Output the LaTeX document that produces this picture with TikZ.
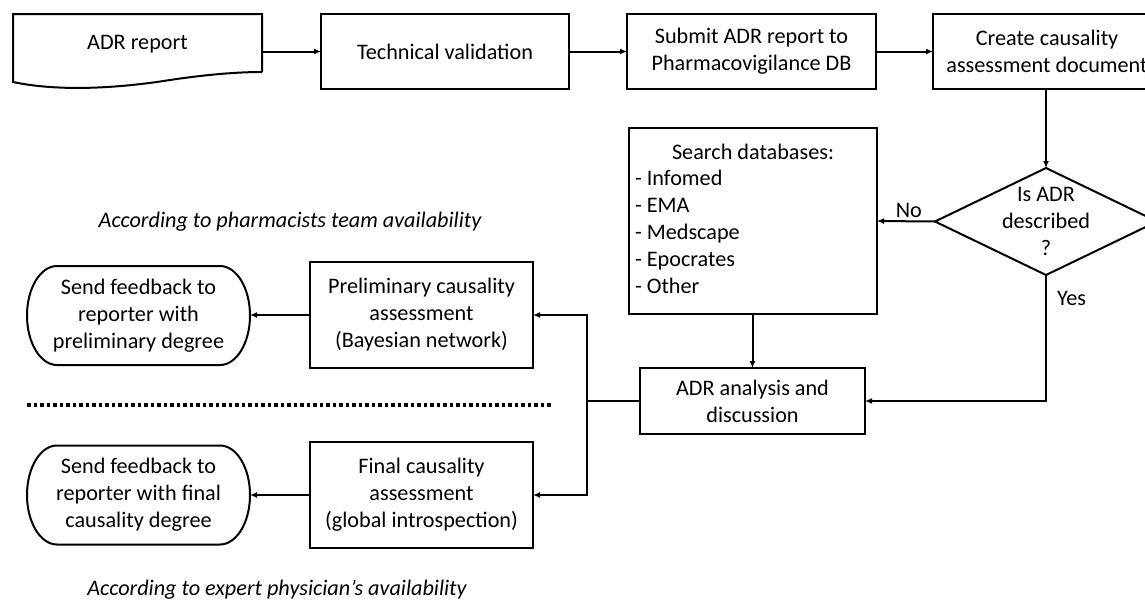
\documentclass[tikz,border=0pt]{standalone}
\usepackage{fontspec}
\setmainfont{Carlito}
\usetikzlibrary{arrows.meta,calc}
\begin{document}
\begin{tikzpicture}[x=1pt,y=-1pt,
  every node/.style={font=\fontsize{22.2}{27}\selectfont, inner sep=0pt, outer sep=0pt},
  box/.style={draw, line width=2pt, align=center},
  plain/.style={align=center},
  ln/.style={line width=2pt},
  arr/.style={line width=2pt, -{Latex[length=7pt,width=6pt]}},
  lbl/.style={font=\fontsize{22.2}{27}\selectfont},
  note/.style={font=\fontsize{22.2}{27}\selectfont\itshape}
]
\clip (0,0) rectangle (1145,613);
\fill[white] (0,0) rectangle (1145,613);

% ADR report (document shape)
\node[plain, minimum width=249, minimum height=58] (adr) at (137.5,43) {};
\node at (137.5,44) (adrtxt) {ADR report};
\draw[ln] (adr.south east) -- (adr.north east) -- (adr.north west) -- (13,82)
  .. controls (60,92) and (120,88) .. (170,80) .. controls (210,74) and (240,72) .. (adr.south east);

\node[box, minimum width=248, minimum height=75] (tech) at (445,51.5) {Technical validation};
\node[box, minimum width=249, minimum height=75] (submit) at (751.5,51.5) {Submit ADR report to\\Pharmacovigilance DB};
\node[box, minimum width=228, minimum height=75] (create) at (1047,51.5) {Create causality\\assessment document};

% decision
\node[plain, minimum width=222, minimum height=107] (dia) at (1046,221.5) {Is ADR\\described\\?};
\draw[ln] (dia.north) -- (dia.east) -- (dia.south) -- (dia.west) -- cycle;

% search
\node[box, minimum width=248, minimum height=186] (search) at (753,221) {};
\node[plain] (stitle) at (753,152) {Search databases:};
\node[align=left, anchor=west] (slist) at (635,232) {- Infomed\\- EMA\\- Medscape\\- Epocrates\\- Other};

% analysis
\node[box, minimum width=225, minimum height=66] (ana) at (752.5,401) {ADR analysis and\\discussion};

% assessments
\node[box, minimum width=223, minimum height=106] (prelim) at (421.5,315) {Preliminary causality\\assessment\\(Bayesian network)};
\node[box, minimum width=223, minimum height=106] (final) at (421.5,495) {Final causality\\assessment\\(global introspection)};

% feedback terminals
\node[plain, minimum width=223, minimum height=99] (send1) at (138.5,315.5) {Send feedback to\\reporter with\\preliminary degree};
\node[plain, minimum width=223, minimum height=99] (send2) at (138.5,495) {Send feedback to\\reporter with final\\causality degree};
\foreach \n in {send1,send2}{
  \draw[ln] ([xshift=30pt]\n.north west) -- ([xshift=-30pt]\n.north east)
    arc[start angle=90, end angle=-90, x radius=30pt, y radius=49.5pt]
    -- ([xshift=30pt]\n.south west)
    arc[start angle=270, end angle=90, x radius=30pt, y radius=49.5pt] -- cycle;
}

% notes
\node[note] (n1) at (290,222) {According to pharmacists team availability};
\node[note] (n2) at (277,590) {According to expert physician’s availability};

% dotted separator
\coordinate (d1) at (27,405);
\coordinate (d2) at (553,405);
\draw[line width=3.5pt, dash pattern=on 3.5pt off 3pt] (d1) -- (d2);

% connectors
\draw[arr] (adr.east |- tech.west) -- (tech.west);
\draw[arr] (tech.east) -- (submit.west);
\draw[arr] (submit.east) -- (create.west);
\draw[arr] (dia.north |- create.south) -- (dia.north);
\draw[arr] (dia.west) -- node[lbl, above=4pt, pos=0.45] (no) {No} (search.east);
\draw[arr] (dia.south) |- (ana.east);
\node[lbl, anchor=west] (yes) at (1057,298) {Yes};
\draw[arr] (search.south -| ana.north) -- (ana.north);
\coordinate (j) at (587,401);
\draw[ln] (ana.west) -- (j);
\draw[arr] (j) |- (prelim.east);
\draw[arr] (j) |- (final.east);
\draw[arr] (prelim.west) -- (send1.east |- prelim.west);
\draw[arr] (final.west) -- (send2.east |- final.west);
\end{tikzpicture}
\end{document}
